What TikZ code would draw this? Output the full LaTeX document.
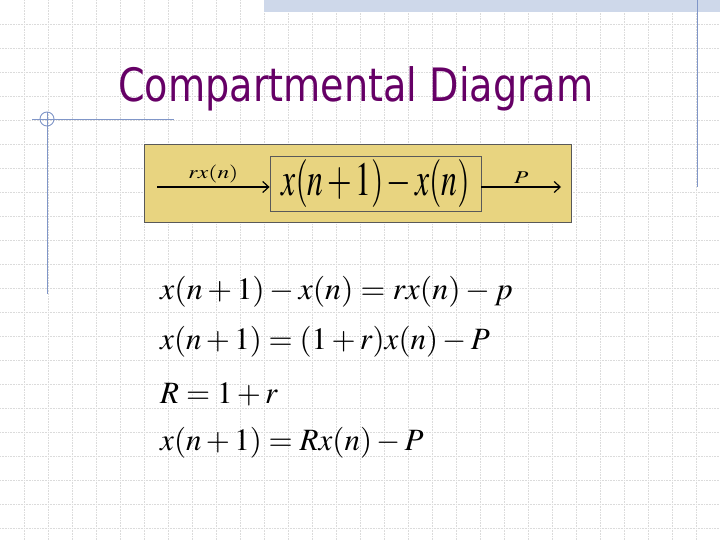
\documentclass[tikz,border=0pt]{standalone}
\usepackage{mathptmx}
\usepackage[no-math]{fontspec}
\newfontfamily\titlefont{DejaVu Sans}
\usetikzlibrary{arrows.meta,positioning}

\definecolor{titlepurple}{RGB}{102,0,102}
\definecolor{boxyellow}{RGB}{232,212,128}
\definecolor{decoblue}{RGB}{128,150,200}
\definecolor{bandblue}{RGB}{206,216,234}

\begin{document}
\begin{tikzpicture}[x=1pt, y=-1pt]
        \tikzstyle{gridline}=[densely dotted, gray!28, line width=0.6pt];
        \tikzstyle{deco}=[decoblue, line width=0.9pt];
        \tikzstyle{box}=[rectangle, draw=black!65, fill=boxyellow, line width=0.8pt, inner sep=0pt];
        \tikzstyle{flow}=[-{Straight Barb[length=6pt, width=11pt]}, line width=1.2pt];
        \tikzstyle{flowlabel}=[above=0pt, font=\fontsize{18}{20}\selectfont, xscale=1.3];
        \tikzstyle{eqn}=[anchor=base west, inner sep=0pt, font=\fontsize{31}{36}\selectfont];

        \useasboundingbox (0, 0) rectangle (720, 540);
        \fill[white] (0, 0) rectangle (720, 540);

        % slide background
        \foreach \g in {24, 48, ..., 696} \draw[gridline] (\g, 0) -- (\g, 540);
        \foreach \g in {24, 48, ..., 528} \draw[gridline] (0, \g) -- (720, \g);
        \fill[bandblue] (264, 0) rectangle (720, 12);
        \draw[deco] (697, 0) -- (697, 187);
        \draw[deco] (32, 119) -- (174, 119);
        \draw[deco] (47, 112) -- (47, 294);
        \draw[deco] (47, 119) circle (7);

        \node[anchor=base west, inner sep=0pt, text=titlepurple, xscale=0.83,
              font=\titlefont\fontsize{46}{52}\selectfont] (title) at (118, 102) {Compartmental Diagram};

        % compartment
        \node[box, minimum width=427, minimum height=78] (panel) at (357.5, 183) {};
        \node[box, minimum width=211, minimum height=55, font=\fontsize{36}{40}\selectfont] (stock) at (375.5, 183.5)
             {\scalebox{0.88}[1.33]{$\medmuskip=2mu x(n+1)-x(n)$}};

        \coordinate (src) at (157, 187);
        \coordinate (sink) at (561, 187);
        \draw[flow] (src) -- (stock.west |- src) node[midway, flowlabel] (inflow) {$rx(n)$};
        \draw[flow] (stock.east |- sink) -- (sink) node[midway, flowlabel] (outflow) {$P$};

        % equations
        \node[eqn, xscale=1.03] (eq1) at (160, 299) {$x(n+1)-x(n)=rx(n)-p$};
        \node[eqn] (eq2) at (160, 349) {$x(n+1)=(1+r)x(n)-P$};
        \node[eqn] (eq3) at (160, 403) {$R=1+r$};
        \node[eqn] (eq4) at (160, 450) {$x(n+1)=Rx(n)-P$};
    \end{tikzpicture}
\end{document}
